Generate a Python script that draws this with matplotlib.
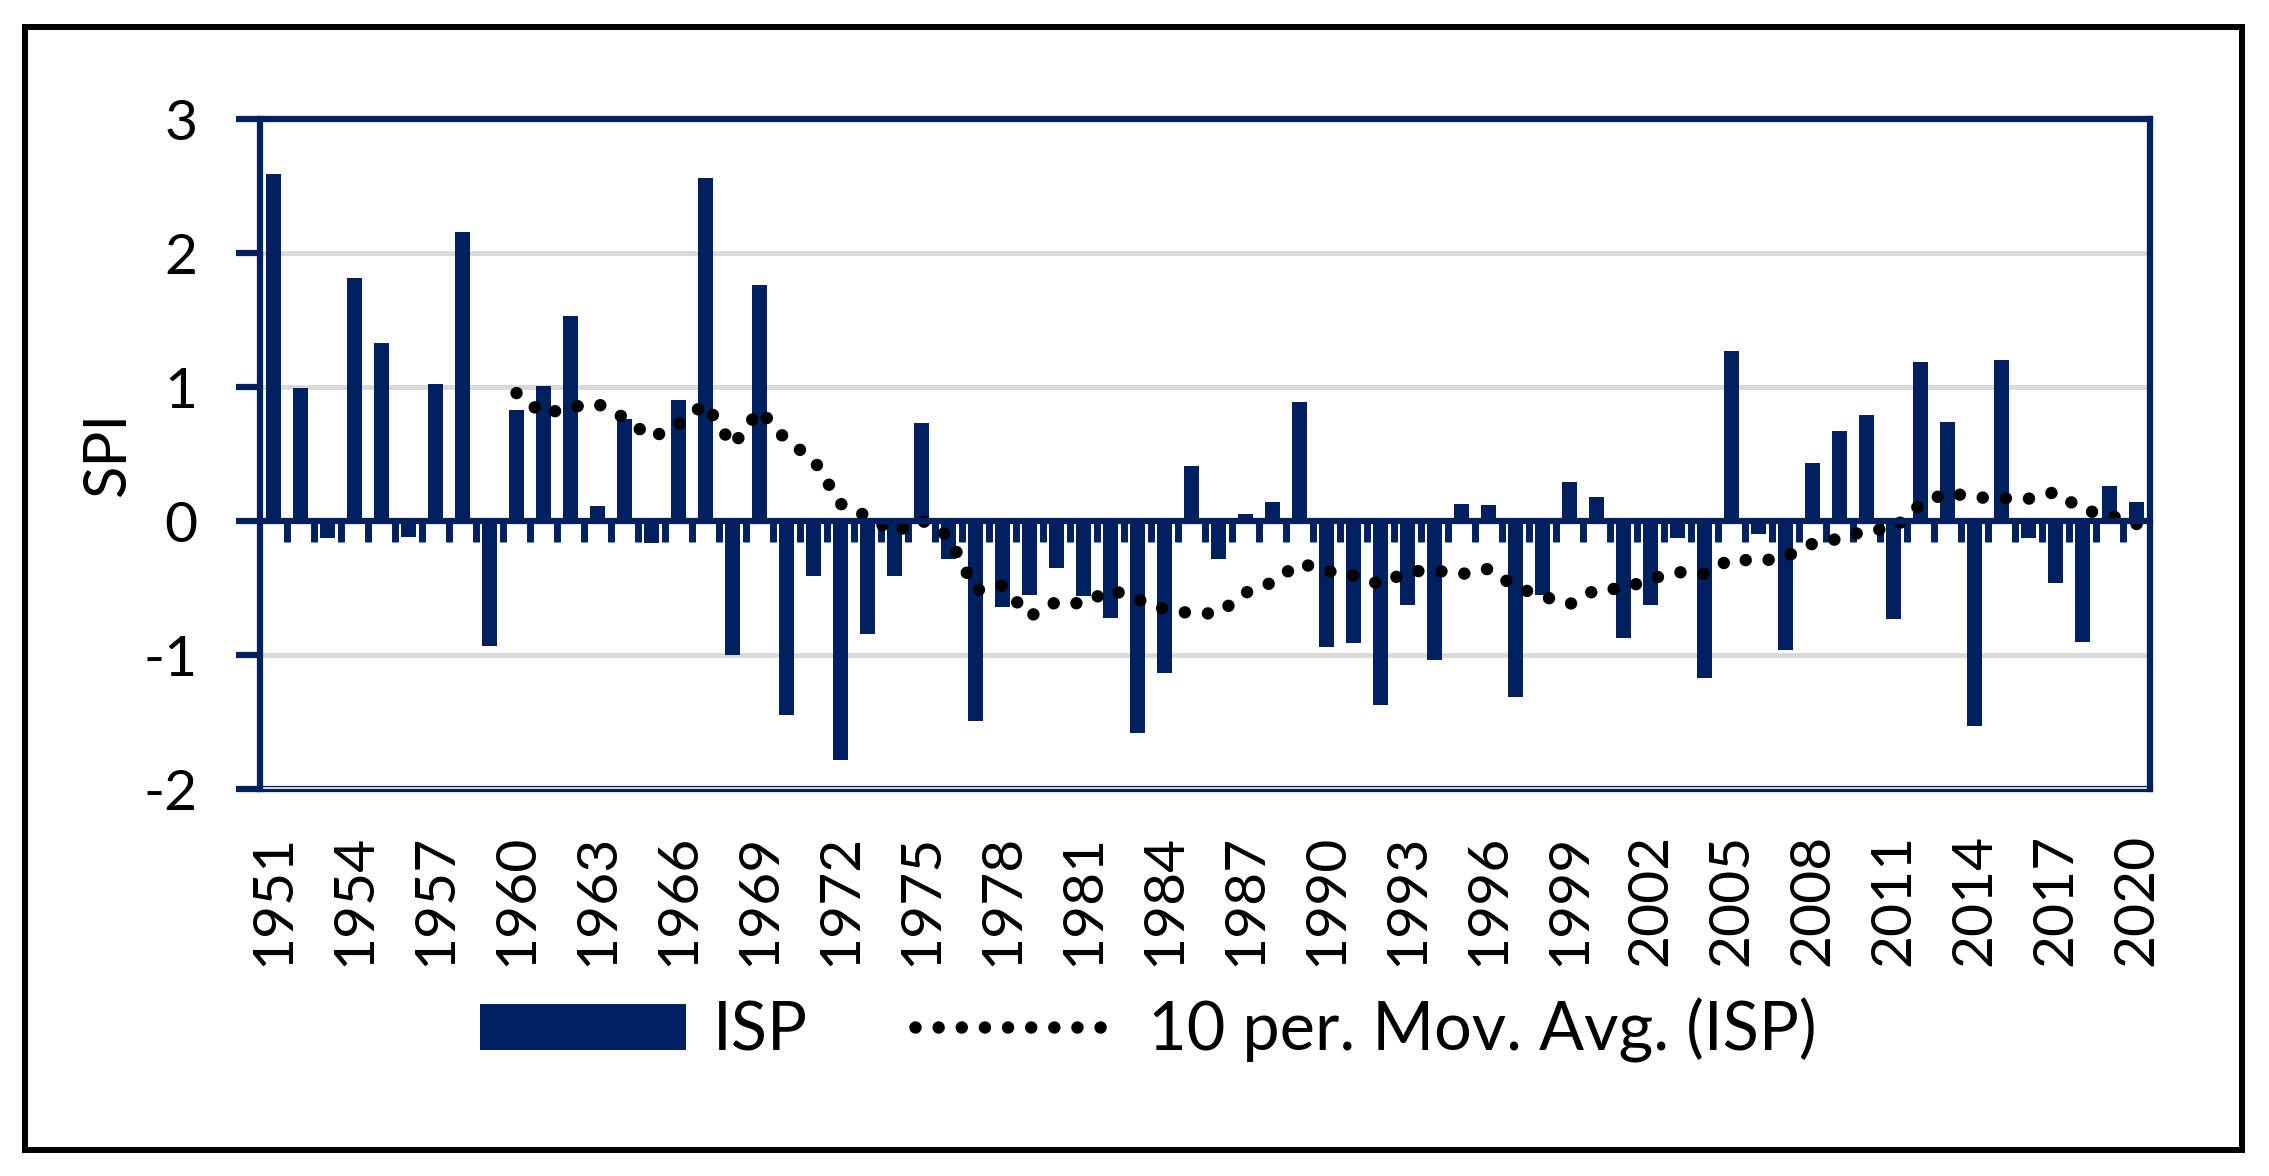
import matplotlib
matplotlib.use('Agg')
import matplotlib.pyplot as plt
from matplotlib.patches import Rectangle
import numpy as np
import pandas as pd

plt.rcParams['font.family'] = ['Lato', 'DejaVu Sans']
plt.rcParams['axes.unicode_minus'] = False

# SPI values, 1951-2020
years = np.arange(1951, 2021)
isp = [2.59, 0.99, -0.13, 1.81, 1.33, -0.12, 1.02, 2.16, -0.93, 0.83,
       1.01, 1.53, 0.11, 0.76, -0.16, 0.90, 2.56, -1.00, 1.76, -1.45,
       -0.41, -1.78, -0.84, -0.41, 0.73, -0.28, -1.49, -0.64, -0.55, -0.35,
       -0.56, -0.72, -1.58, -1.13, 0.41, -0.28, 0.05, 0.14, 0.89, -0.94,
       -0.91, -1.37, -0.63, -1.04, 0.13, 0.12, -1.31, -0.55, 0.29, 0.18,
       -0.87, -0.63, -0.13, -1.17, 1.27, -0.10, -0.96, 0.43, 0.67, 0.79,
       -0.73, 1.19, 0.74, -1.53, 1.20, -0.13, -0.46, -0.90, 0.26, 0.14]
label_years = years[::3]

navy = '#002060'

fig = plt.figure(figsize=(22.69, 11.76), dpi=100)
ax = fig.add_axes([0.1146, 0.329, 0.833, 0.5698])

bars = ax.bar(years, isp, width=0.58, color=navy, label='ISP', zorder=2)
ma = pd.Series(isp).rolling(10).mean()
line, = ax.plot(years, ma, color='black', lw=9, linestyle=(0, (0.001, 1.85)),
                dash_capstyle='round', label='10 per. Mov. Avg. (ISP)',
                zorder=3)

ax.set_xlim(years[0] - 0.5, years[-1] + 0.5)
ax.set_ylim(-2, 3)
ax.set_yticks(range(-2, 4))
ax.yaxis.grid(True, color='#D9D9D9', lw=3.5)
ax.set_axisbelow(True)

for s in ['left', 'right', 'top']:
    ax.spines[s].set_color(navy)
    ax.spines[s].set_linewidth(4.5)
# zero line carries the category tick marks
ax.spines['bottom'].set_position(('data', 0))
ax.spines['bottom'].set_color(navy)
ax.spines['bottom'].set_linewidth(4.5)
ax.spines['bottom'].set_zorder(4)
ax.set_xticks(years[:-1] + 0.5)
ax.tick_params(axis='x', length=15, width=5, color=navy, direction='out',
               labelbottom=False)
ax.tick_params(axis='y', length=17, width=4.5, color=navy, labelsize=41,
               pad=28)
ax.set_ylabel('SPI', fontsize=43, labelpad=6)

# year labels along the bottom border
sec = ax.secondary_xaxis('bottom')
sec.set_xticks(label_years, labels=[str(y) for y in label_years])
sec.tick_params(length=0, pad=32, labelsize=41, labelrotation=90)
sec.spines['bottom'].set_color(navy)
sec.spines['bottom'].set_linewidth(4.5)

fig.legend([bars, line], ['ISP', '10 per. Mov. Avg. (ISP)'], loc='center',
           bbox_to_anchor=(0.506, 0.124), ncol=2, frameon=False, fontsize=48,
           handlelength=3.1, handleheight=0.7, handletextpad=0.4,
           columnspacing=1.6)

fig.add_artist(Rectangle((25 / 2269, 0.0221), (2242 - 25) / 2269,
                         (1150 - 27) / 1176, transform=fig.transFigure,
                         fill=False, ec='black', lw=4.3))

fig.savefig('out.png', dpi=100)
